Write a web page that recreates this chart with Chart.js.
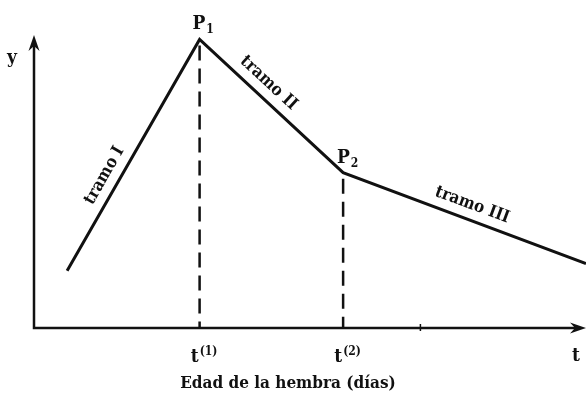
<!DOCTYPE html>
<html lang="es">
<head>
<meta charset="UTF-8">
<title>Edad de la hembra</title>
<script src="https://cdn.jsdelivr.net/npm/chart.js"></script>
<style>
    html, body { margin: 0; padding: 0; background: #fff; }
    #wrap { width: 586px; height: 394px; }
</style>
</head>
<body>
<div id="wrap"><canvas id="chart"></canvas></div>
<script>
// breakpoints of the curve: age (days) and y
const tPoints = [6, 30, 56, 100];
const yPoints = [19.5, 98.5, 53, 22];

// names of the breakpoints (base + subscript) and of the segments
const pointBase = ['P', 'P'];
const pointSub = ['1', '2'];
const segmentNames = ['tramo I', 'tramo II', 'tramo III'];

// labels under the x axis at t(1) and t(2)
const tickBase = ['t', 't'];
const tickSup = ['(1)', '(2)'];
const extraTick = 70;

const ink = '#111';
const serif = '"DejaVu Serif Condensed", "DejaVu Serif", serif';

// curve dataset
const curve = tPoints.map((t, i) => ({ x: t, y: yPoints[i] }));

// dashed drops from P1 and P2 down to the axis
const drops = [1, 2].map(i => ({
    data: [{ x: tPoints[i], y: yPoints[i] }, { x: tPoints[i], y: 0 }],
    borderColor: ink,
    borderWidth: 2.5,
    borderDash: [15, 8],
    borderDashOffset: -6,
    pointRadius: 0,
    showLine: true
}));

function scriptText(ctx, base, small, x, y, size, shift) {
    // draws base text with a smaller raised/lowered part after it
    const bigFont = 'bold ' + size + 'px ' + serif;
    const smallFont = 'bold ' + Math.round(size * 0.65) + 'px ' + serif;
    ctx.textAlign = 'left';
    ctx.textBaseline = 'alphabetic';
    ctx.font = bigFont;
    const w = ctx.measureText(base).width;
    ctx.font = smallFont;
    const sw = ctx.measureText(small).width;
    const left = x - (w + sw) / 2;
    ctx.font = bigFont;
    ctx.fillText(base, left, y);
    ctx.font = smallFont;
    ctx.fillText(small, left + w + 1, y + shift);
}

function arrowHead(ctx, x, y, angle) {
    ctx.save();
    ctx.translate(x, y);
    ctx.rotate(angle);
    ctx.beginPath();
    ctx.moveTo(0, 0);
    ctx.lineTo(-16, -5.5);
    ctx.lineTo(-11, 0);
    ctx.lineTo(-16, 5.5);
    ctx.closePath();
    ctx.fill();
    ctx.restore();
}

const sketchPlugin = {
    id: 'sketch',
    beforeDatasetsDraw(chart) {
        const { ctx, chartArea, scales } = chart;
        const x0 = scales.x.getPixelForValue(0);
        const y0 = scales.y.getPixelForValue(0);
        ctx.save();
        ctx.strokeStyle = ink;
        ctx.fillStyle = ink;
        ctx.lineWidth = 2.5;
        ctx.beginPath();
        ctx.moveTo(x0, chartArea.top + 6);
        ctx.lineTo(x0, y0);
        ctx.lineTo(chartArea.right - 6, y0);
        ctx.stroke();
        arrowHead(ctx, x0, chartArea.top, -Math.PI / 2);
        arrowHead(ctx, chartArea.right, y0, 0);
        // small tick on the x axis
        const xt = scales.x.getPixelForValue(extraTick);
        ctx.lineWidth = 1.5;
        ctx.beginPath();
        ctx.moveTo(xt, y0 + 3);
        ctx.lineTo(xt, y0 - 4);
        ctx.stroke();
        ctx.restore();
    },
    afterDraw(chart) {
        const { ctx, scales } = chart;
        const y0 = scales.y.getPixelForValue(0);
        ctx.save();
        ctx.fillStyle = ink;

        // axis letters
        ctx.font = 'bold 19px ' + serif;
        ctx.textAlign = 'center';
        ctx.textBaseline = 'middle';
        ctx.fillText('y', 12, 58);
        ctx.fillText('t', 576, 356);

        // P1, P2
        [1, 2].forEach((i, k) => {
            const px = scales.x.getPixelForValue(tPoints[i]);
            const py = scales.y.getPixelForValue(yPoints[i]);
            const dx = k === 0 ? 3 : 4;
            scriptText(ctx, pointBase[k], pointSub[k], px + dx, py - 10, 19, 4);
        });

        // t(1), t(2)
        [1, 2].forEach((i, k) => {
            const px = scales.x.getPixelForValue(tPoints[i]);
            scriptText(ctx, tickBase[k], tickSup[k], px + 4, y0 + 34, 19, -7);
        });

        // segment names along the lines
        const along = [0.38, 0.41, 0.51];
        ctx.font = 'bold 17px ' + serif;
        ctx.textAlign = 'center';
        ctx.textBaseline = 'middle';
        segmentNames.forEach((name, i) => {
            const ax = scales.x.getPixelForValue(tPoints[i]);
            const ay = scales.y.getPixelForValue(yPoints[i]);
            const bx = scales.x.getPixelForValue(tPoints[i + 1]);
            const by = scales.y.getPixelForValue(yPoints[i + 1]);
            const a = Math.atan2(by - ay, bx - ax);
            const cx = ax + (bx - ax) * along[i] + Math.sin(a) * 15;
            const cy = ay + (by - ay) * along[i] - Math.cos(a) * 15;
            ctx.save();
            ctx.translate(cx, cy);
            ctx.rotate(a);
            ctx.fillText(name, 0, 0);
            ctx.restore();
        });

        // axis title
        ctx.font = 'bold 17px ' + serif;
        ctx.textAlign = 'center';
        ctx.textBaseline = 'alphabetic';
        ctx.fillText('Edad de la hembra (días)', 288, 388);
        ctx.restore();
    }
};

new Chart(document.getElementById('chart'), {
    type: 'scatter',
    data: {
        datasets: [{
            data: curve,
            borderColor: ink,
            borderWidth: 3,
            pointRadius: 0,
            showLine: true,
            tension: 0
        }, ...drops]
    },
    options: {
        responsive: true,
        maintainAspectRatio: false,
        animation: false,
        layout: { padding: { left: 34, right: 0, top: 35, bottom: 66 } },
        plugins: {
            legend: { display: false },
            tooltip: { enabled: false }
        },
        scales: {
            x: { type: 'linear', min: 0, max: 100, display: false },
            y: { type: 'linear', min: 0, max: 100, display: false }
        }
    },
    plugins: [sketchPlugin]
});
</script>
</body>
</html>
